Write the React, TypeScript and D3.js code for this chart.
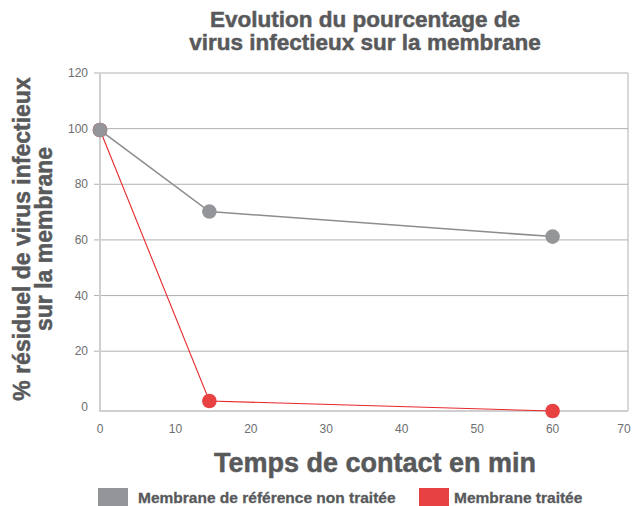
import React from 'react';
import * as d3 from 'd3';

const times = [0, 14.5, 60];
const referenceValues = [99.5, 70.2, 61.2];
const treatedValues = [99.5, 2.1, -1.5];
const yTicks = [0, 20, 40, 60, 80, 100, 120];
const xTicks = [0, 10, 20, 30, 40, 50, 60, 70];
const seriesNames = ['Membrane de référence non traitée', 'Membrane traitée'];
const seriesColors = ['#939598', '#e84142'];

const W = 633;
const H = 506;
const margin = { top: 73, right: 5, bottom: 95, left: 100 };
const font = '"Liberation Sans", Arial, Helvetica, sans-serif';
const textColor = '#58595b';

// heavier bold, closer to the original's black weight
const heavy = { fontWeight: 'bold', fill: textColor, stroke: textColor, strokeWidth: 0.5 } as const;

const App = () => {
  const x = d3.scaleLinear().domain([0, 70]).range([margin.left, W - margin.right]);
  const y = d3.scaleLinear().domain([-1.5, 120]).range([H - margin.bottom, margin.top]);

  const line = d3.line<number>()
    .x((_, i) => x(times[i]))
    .y(d => y(d));

  const series = [referenceValues, treatedValues];
  const legendX = [98, 419];
  const legendTextOffset = [40, 35];

  return (
    <svg width={W} height={H} style={{ position: 'absolute', left: 0, top: 0 }} fontFamily={font}>
      <rect width={W} height={H} fill="#fff" />
      <text x={365} y={27} textAnchor="middle" fontSize={22.5} {...heavy}>Evolution du pourcentage de</text>
      <text x={365} y={50} textAnchor="middle" fontSize={22.5} {...heavy}>virus infectieux sur la membrane</text>

      {/* grid */}
      {yTicks.filter(t => t > 0).map(t => (
        <line key={t} x1={margin.left - 6} x2={x(70)} y1={y(t)} y2={y(t)} stroke="#b1b1b3" strokeWidth={1} />
      ))}
      <line x1={x(70)} x2={x(70)} y1={y(120)} y2={y(-1.5)} stroke="#b1b1b3" strokeWidth={1} />
      <line x1={margin.left} x2={margin.left} y1={y(120)} y2={y(-1.5) + 1} stroke="#cfcfd0" strokeWidth={2} />
      <line x1={margin.left} x2={x(70)} y1={y(-1.5)} y2={y(-1.5)} stroke="#cfcfd0" strokeWidth={2} />

      {yTicks.map(t => (
        <text key={t} x={88} y={y(t)} dy="0.35em" textAnchor="end" fontSize={12} fill="#6d6e71">{t}</text>
      ))}
      {xTicks.map(t => (
        <text key={t} x={Math.min(x(t), W - 9)} y={429} dy="0.35em" textAnchor="middle" fontSize={12} fill="#6d6e71">{t}</text>
      ))}

      {series.map((s, k) => (
        <g key={k}>
          <path d={line(s) || ''} fill="none" stroke={k === 0 ? '#8c8d90' : '#e8282b'} strokeWidth={k === 0 ? 1.6 : 1.1} />
          {s.map((v, i) => (
            <circle key={i} cx={x(times[i])} cy={y(v)} r={7.3} fill={seriesColors[k]} />
          ))}
        </g>
      ))}
      {/* first grey point sits on top of the red one */}
      <circle cx={x(times[0])} cy={y(referenceValues[0])} r={7.3} fill={seriesColors[0]} />

      <text x={375} y={472} textAnchor="middle" fontSize={27} {...heavy}>Temps de contact en min</text>

      <g transform="translate(34,239) rotate(-90)">
        <text x={0} y={-4} textAnchor="middle" fontSize={23} {...heavy}>% résiduel de virus infectieux</text>
        <text x={0} y={18} textAnchor="middle" fontSize={23} {...heavy}>sur la membrane</text>
      </g>

      {seriesNames.map((n, k) => (
        <g key={n} transform={`translate(${legendX[k]},488)`}>
          <rect width={30} height={18} fill={seriesColors[k]} />
          <text x={legendTextOffset[k]} y={15} fontSize={15.5} {...heavy} strokeWidth={0.3}>{n}</text>
        </g>
      ))}
    </svg>
  );
};

export default App;
